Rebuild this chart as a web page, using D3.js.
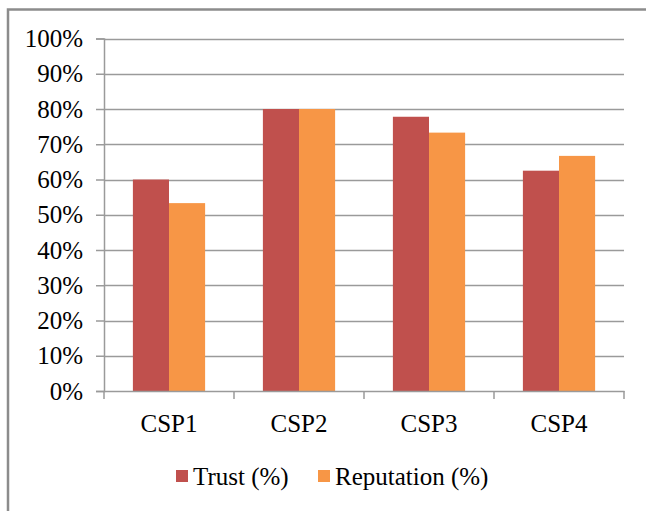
<!DOCTYPE html>
<html>
<head>
<script src="https://cdn.jsdelivr.net/npm/d3@7"></script>
<style>
  body { margin: 0; background: #fff; }
</style>
</head>
<body>
<svg id="chart" width="646" height="511"></svg>
<script>
// chart data
var categories = ["CSP1", "CSP2", "CSP3", "CSP4"];
var seriesNames = ["Trust (%)", "Reputation (%)"];
var trust = [60, 80, 77.8, 62.5];
var reputation = [53.3, 80, 73.3, 66.7];
var yTicks = [0, 10, 20, 30, 40, 50, 60, 70, 80, 90, 100];
var colors = ["#C0504D", "#F79646"];

var serif = "'Liberation Serif', 'Times New Roman', serif";
var svg = d3.select("#chart");

// outer frame (runs off the right and bottom of the picture)
svg.append("rect")
    .attr("x", 8).attr("y", 9.5)
    .attr("width", 660).attr("height", 520)
    .attr("fill", "none")
    .attr("stroke", "#8c8c8c")
    .attr("stroke-width", 2.5);

var plotLeft = 104, plotRight = 624, plotTop = 38.5, plotBottom = 391;

var x = d3.scaleBand().domain(categories).range([plotLeft, plotRight]);
var xs = d3.scaleBand().domain(seriesNames).range([0, x.bandwidth()])
    .paddingInner(0).paddingOuter(0.8);
var y = d3.scaleLinear().domain([0, 100]).range([plotBottom, plotTop]);

// gridlines
svg.append("g").selectAll("line")
    .data(yTicks.slice(1))
    .enter().append("line")
    .attr("x1", plotLeft).attr("x2", plotRight)
    .attr("y1", function (d) { return Math.round(y(d)) + 0.5; })
    .attr("y2", function (d) { return Math.round(y(d)) + 0.5; })
    .attr("stroke", "#9a9a9a")
    .attr("stroke-width", 1.5);

// bars
var rows = categories.map(function (c, i) { return [trust[i], reputation[i]]; });
svg.append("g").selectAll("g")
    .data(rows)
    .enter().append("g")
    .attr("transform", function (d, i) { return "translate(" + x(categories[i]) + ",0)"; })
    .selectAll("rect")
    .data(function (d) { return d; })
    .enter().append("rect")
    .attr("x", function (d, j) { return xs(seriesNames[j]); })
    .attr("width", xs.bandwidth())
    .attr("y", function (d) { return y(d); })
    .attr("height", function (d) { return y(0) - y(d); })
    .attr("fill", function (d, j) { return colors[j]; });

// y axis
var yAxis = svg.append("g")
    .attr("transform", "translate(" + plotLeft + ",0)")
    .call(d3.axisLeft(y).tickValues(yTicks).tickSize(8).tickPadding(13)
        .tickFormat(function (d) { return d + "%"; }));
yAxis.select(".domain").attr("stroke", "#9a9a9a").attr("stroke-width", 1.5);
yAxis.selectAll(".tick line").attr("stroke", "#9a9a9a").attr("stroke-width", 1.5);
yAxis.selectAll("text")
    .style("font-family", serif).style("font-size", "25px").style("fill", "#000");

// x axis
var xAxis = svg.append("g")
    .attr("transform", "translate(0," + plotBottom + ")")
    .call(d3.axisBottom(x).tickSize(0).tickPadding(23));
xAxis.select(".domain").attr("stroke", "#9a9a9a").attr("stroke-width", 1.5);
xAxis.selectAll("text")
    .style("font-family", serif).style("font-size", "25px").style("fill", "#000");
// category separators
svg.append("g").selectAll("line")
    .data(categories.concat(["end"]))
    .enter().append("line")
    .attr("x1", function (d, i) { return plotLeft + i * x.step(); })
    .attr("x2", function (d, i) { return plotLeft + i * x.step(); })
    .attr("y1", plotBottom).attr("y2", plotBottom + 8)
    .attr("stroke", "#9a9a9a").attr("stroke-width", 1.5);

// legend
var legendX = [176, 318];
var legend = svg.append("g").selectAll("g")
    .data(seriesNames)
    .enter().append("g")
    .attr("transform", function (d, i) { return "translate(" + legendX[i] + ",470)"; });
legend.append("rect")
    .attr("width", 12).attr("height", 12)
    .attr("fill", function (d, i) { return colors[i]; });
legend.append("text")
    .attr("x", 17).attr("y", 15)
    .style("font-family", serif).style("font-size", "25px").style("fill", "#000")
    .text(function (d) { return d; });
</script>
</body>
</html>
